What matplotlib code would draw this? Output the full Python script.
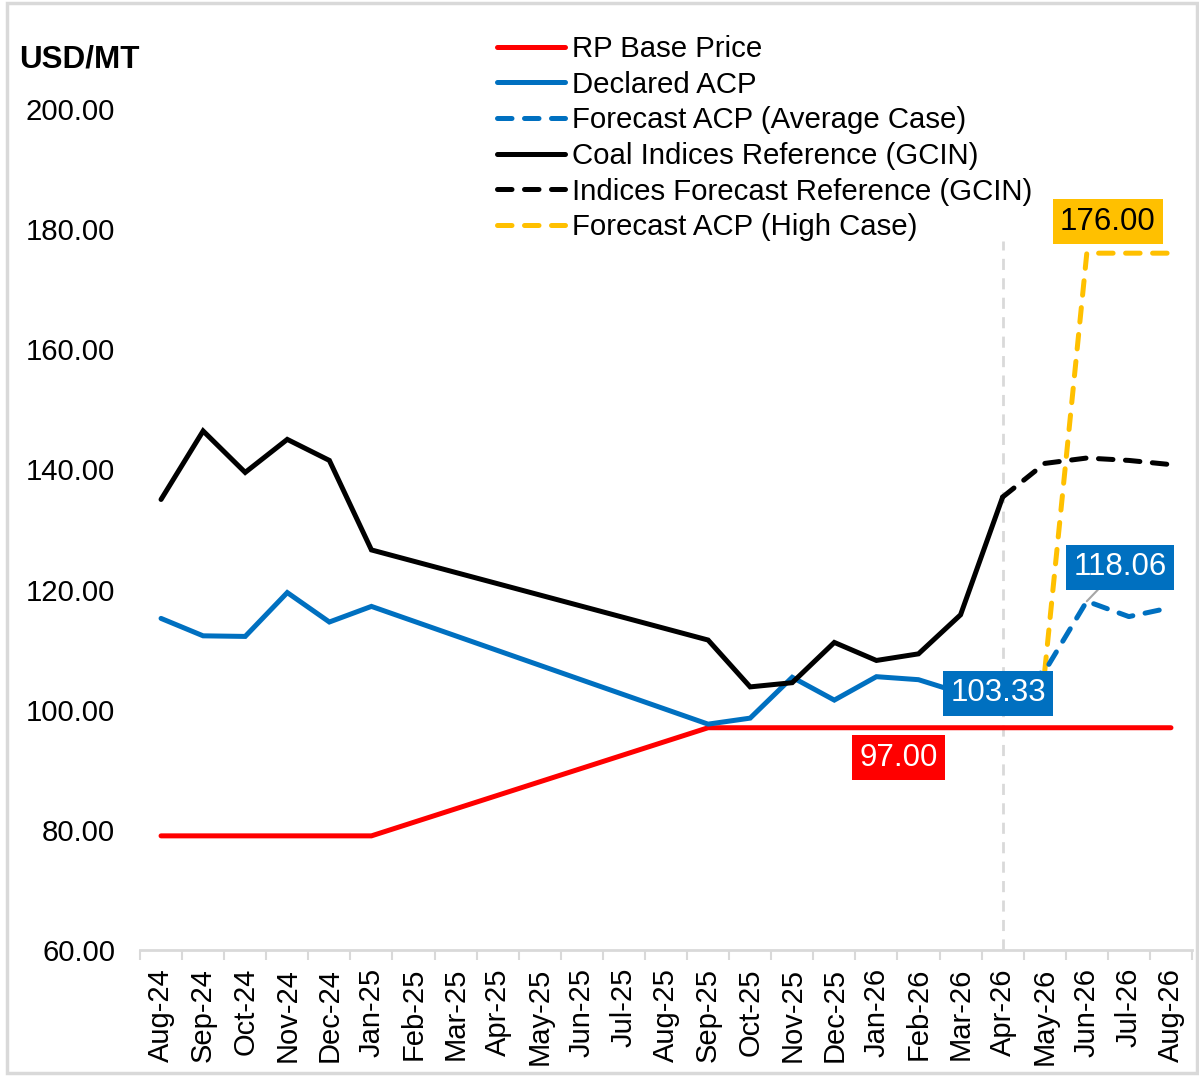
import numpy as np
import matplotlib
matplotlib.use("Agg")
import matplotlib.pyplot as plt
from matplotlib.patches import Rectangle

plt.rcParams['font.family'] = ['Liberation Sans', 'DejaVu Sans']

nan = np.nan
months = ["Aug-24", "Sep-24", "Oct-24", "Nov-24", "Dec-24", "Jan-25", "Feb-25",
          "Mar-25", "Apr-25", "May-25", "Jun-25", "Jul-25", "Aug-25", "Sep-25",
          "Oct-25", "Nov-25", "Dec-25", "Jan-26", "Feb-26", "Mar-26", "Apr-26",
          "May-26", "Jun-26", "Jul-26", "Aug-26"]

rp_base = [79.0, 79.0, 79.0, 79.0, 79.0, 79.0, nan, nan, nan, nan, nan, nan, nan,
           97.0, 97.0, 97.0, 97.0, 97.0, 97.0, 97.0, 97.0, 97.0, 97.0, 97.0, 97.0]
declared_acp = [115.2, 112.3, 112.2, 119.5, 114.6, 117.2, nan, nan, nan, nan, nan, nan, nan,
                97.6, 98.6, 105.4, 101.6, 105.5, 105.0, 102.8, 103.33, nan, nan, nan, nan]
forecast_avg = [nan] * 20 + [103.33, 106.4, 118.06, 115.5, 117.0]
coal_idx = [135.0, 146.4, 139.5, 145.0, 141.5, 126.6, nan, nan, nan, nan, nan, nan, nan,
            111.6, 103.8, 104.5, 111.2, 108.2, 109.3, 115.8, 135.4, nan, nan, nan, nan]
idx_forecast = [nan] * 20 + [135.4, 141.0, 141.9, 141.5, 140.8]
forecast_high = [nan] * 21 + [106.4, 176.0, 176.0, 176.0]

divider_month = "Apr-26"
divider_top = 178.0

RED = "#FF0000"
BLUE = "#0070C0"
BLACK = "#000000"
GOLD = "#FFC000"

fig = plt.figure(figsize=(11.99, 10.76), dpi=100)
W, H = 1199, 1076
ax = fig.add_axes([140 / W, 1 - 950 / H, 1052 / W, 841 / H])

x = np.arange(len(months))
LW = 3.6
DASH = (0, (2.9, 2.5))


def draw(vals, color, ls, label, z):
    y = np.array(vals, dtype=float)
    m = ~np.isnan(y)
    ln, = ax.plot(x[m], y[m], color=color, lw=LW, ls=ls, label=label,
                  solid_capstyle='round', dash_capstyle='round',
                  solid_joinstyle='miter', zorder=z)
    return ln


# divider
di = months.index(divider_month)
ax.plot([di, di], [60, divider_top], color="#D9D9D9", lw=2, ls=(0, (4, 3)), zorder=1)

l1 = draw(rp_base, RED, '-', "RP Base Price", 3)
l2 = draw(declared_acp, BLUE, '-', "Declared ACP", 4)
l3 = draw(forecast_avg, BLUE, DASH, "Forecast ACP (Average Case)", 4)
l4 = draw(coal_idx, BLACK, '-', "Coal Indices Reference (GCIN)", 5)
l5 = draw(idx_forecast, BLACK, DASH, "Indices Forecast Reference (GCIN)", 5)
l6 = draw(forecast_high, GOLD, DASH, "Forecast ACP (High Case)", 3)

ax.set_xlim(-0.5, len(months) - 0.5)
ax.set_ylim(60, 200)
ax.set_yticks(np.arange(60, 201, 20))
ax.set_yticklabels([f"{v:.2f}" for v in np.arange(60, 201, 20)])
ax.set_xticks(x)
ax.set_xticklabels(months, rotation=90)
ax.set_xticks(np.arange(-0.5, len(months), 1.0), minor=True)
ax.tick_params(axis='x', which='major', length=0, pad=13, labelsize=21)
ax.tick_params(axis='x', which='minor', length=7, width=1.5, color="#D9D9D9")
ax.tick_params(axis='y', length=0, pad=18, labelsize=21.2)
for s in ['top', 'right', 'left']:
    ax.spines[s].set_visible(False)
ax.spines['bottom'].set_color("#D9D9D9")
ax.spines['bottom'].set_linewidth(2)

# data labels
fs = 22.5
box = 'square,pad=0.24'
fi = months.index('Feb-26')
ax.annotate(f"{rp_base[fi]:.2f}", (fi, rp_base[fi]),
            xytext=(-14.4, -21.6), textcoords='offset points', ha='center', va='center',
            fontsize=fs, color='white', zorder=10,
            bbox=dict(boxstyle=box, fc=RED, ec='none'))
ax.annotate(f"{declared_acp[di]:.2f}", (di, declared_acp[di]),
            xytext=(-3.3, -2.6), textcoords='offset points', ha='center', va='center',
            fontsize=fs, color='white', zorder=10,
            bbox=dict(boxstyle=box, fc=BLUE, ec='none'))
ji = months.index('Jun-26')
ax.annotate(f"{forecast_avg[ji]:.2f}", (ji, forecast_avg[ji]),
            xytext=(23.8, 24.6), textcoords='offset points', ha='center', va='center',
            fontsize=fs, color='white', zorder=10,
            bbox=dict(boxstyle=box, fc=BLUE, ec='none'),
            arrowprops=dict(arrowstyle='-', color='#A6A6A6', lw=1.5, shrinkA=0, shrinkB=0))
ax.annotate(f"{forecast_high[ji]:.2f}", (ji, forecast_high[ji]),
            xytext=(15.2, 22.5), textcoords='offset points', ha='center', va='center',
            fontsize=fs, color='black', zorder=10,
            bbox=dict(boxstyle=box, fc=GOLD, ec='none'))

# legend
handles = [l1, l2, l3, l4, l5, l6]
leg = fig.legend(handles=handles, labels=[h.get_label() for h in handles],
                 loc='upper left', bbox_to_anchor=(497 / W, 1 - 35 / H),
                 frameon=False, fontsize=21.2, handlelength=2.3, handletextpad=0.26,
                 labelspacing=0.26, borderpad=0, borderaxespad=0)

fig.text(19 / W, 1 - 59 / H, "USD/MT", fontsize=22.6, fontweight='bold', ha='left', va='center')

fig.patches.append(Rectangle((7 / W, 3 / H), 1 - 9 / W, 1 - 6 / H, transform=fig.transFigure,
                             fill=False, ec="#D9D9D9", lw=2.5))

fig.savefig("out.png", dpi=100, facecolor='white')
